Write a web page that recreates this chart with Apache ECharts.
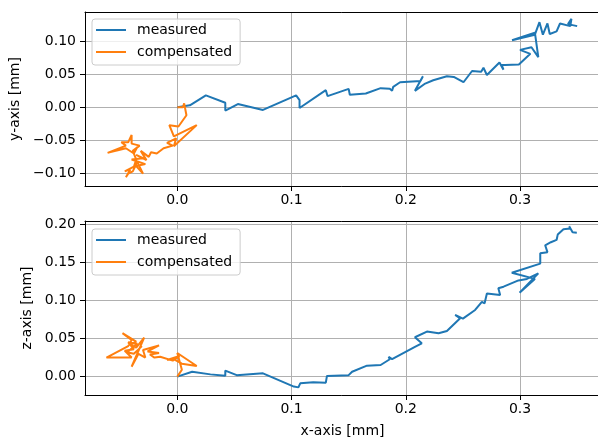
<!DOCTYPE html>
<html>
<head>
<meta charset="utf-8">
<script src="https://cdn.jsdelivr.net/npm/echarts@6/dist/echarts.min.js"></script>
<style>
html,body{margin:0;padding:0;background:#fff;}
#chart{width:598px;height:440px;}
</style>
</head>
<body>
<div id="chart"></div>
<script>
// ---- data ----
var seriesNames = ['measured', 'compensated'];
var xTicks = [0.0, 0.1, 0.2, 0.3];
var yTicks = [-0.10, -0.05, 0.00, 0.05, 0.10];
var zTicks = [0.00, 0.05, 0.10, 0.15, 0.20];

// top panel: x vs y (mm)
var measuredXY = [
  [0,0],[0.011,0.003],[0.025,0.018],[0.042,0.007],[0.042,-0.005],[0.053,0.005],
  [0.075,-0.004],[0.104,0.018],[0.107,0.011],[0.107,-0.001],[0.130,0.026],[0.1315,0.017],
  [0.150,0.028],[0.151,0.019],[0.165,0.021],[0.178,0.029],[0.186,0.028],[0.188,0.025],
  [0.189,0.031],[0.195,0.038],[0.213,0.040],[0.215,0.047],[0.208,0.025],[0.217,0.036],
  [0.224,0.041],[0.236,0.047],[0.242,0.046],[0.2505,0.038],[0.258,0.055],[0.266,0.054],
  [0.268,0.060],[0.271,0.049],[0.282,0.068],[0.2855,0.057],[0.284,0.064],[0.287,0.064],
  [0.299,0.065],[0.309,0.081],[0.300,0.087],[0.310,0.091],[0.316,0.076],[0.313,0.113],
  [0.293,0.1015],[0.313,0.110],[0.317,0.129],[0.320,0.110],[0.324,0.127],[0.326,0.111],
  [0.332,0.115],[0.335,0.127],[0.344,0.123],[0.345,0.134],[0.342,0.126],[0.350,0.123]
];
var compensatedXY = [
  [0,0],[0.005,0],[0.006,0.006],[0.008,-0.012],[0.001,-0.029],[-0.007,-0.027],
  [-0.003,-0.044],[0.017,-0.027],[-0.003,-0.059],[-0.001,-0.047],[-0.009,-0.054],[-0.004,-0.058],
  [-0.012,-0.062],[-0.018,-0.070],[-0.023,-0.068],[-0.025,-0.075],[-0.032,-0.066],[-0.027,-0.080],
  [-0.036,-0.072],[-0.030,-0.077],[-0.040,-0.079],[-0.028,-0.086],[-0.036,-0.089],[-0.030,-0.1005],
  [-0.035,-0.083],[-0.039,-0.097],[-0.043,-0.1005],[-0.045,-0.106],[-0.041,-0.094],[-0.046,-0.097],
  [-0.038,-0.090],[-0.036,-0.079],[-0.039,-0.066],[-0.033,-0.058],[-0.040,-0.055],[-0.040,-0.042],
  [-0.043,-0.053],[-0.049,-0.053],[-0.045,-0.058],[-0.061,-0.069],[-0.045,-0.062],[-0.038,-0.070],
  [-0.035,-0.060]
];

// bottom panel: x vs z (mm)
var measuredXZ = [
  [0,0],[0.013,0.0065],[0.029,0.003],[0.042,0.0013],[0.042,0.008],[0.052,0.002],
  [0.075,0.0044],[0.102,-0.013],[0.106,-0.014],[0.1076,-0.0087],[0.119,-0.0073],[0.130,-0.0078],
  [0.131,0.001],[0.150,0.002],[0.153,0.0065],[0.166,0.0144],[0.178,0.0153],[0.186,0.0228],
  [0.185,0.026],[0.188,0.023],[0.208,0.039],[0.214,0.0437],[0.208,0.0516],[0.2185,0.059],
  [0.2287,0.0568],[0.236,0.0598],[0.2476,0.0764],[0.2432,0.0808],[0.250,0.076],[0.2607,0.0873],
  [0.2666,0.098],[0.269,0.096],[0.271,0.109],[0.2826,0.107],[0.281,0.1157],[0.2856,0.1178],
  [0.2986,0.126],[0.306,0.128],[0.316,0.1353],[0.2996,0.110],[0.313,0.128],[0.2928,0.136],
  [0.3177,0.148],[0.3177,0.1615],[0.324,0.163],[0.322,0.172],[0.327,0.176],[0.332,0.179],
  [0.333,0.186],[0.338,0.193],[0.344,0.194],[0.343,0.197],[0.346,0.189],[0.3497,0.1885]
];
var compensatedXZ = [
  [0,0],[0.004,0.009],[0.0,0.031],[0.017,0.014],[0.004,0.017],[-0.002,0.022],
  [-0.009,0.022],[0.002,0.027],[-0.004,0.021],[-0.015,0.026],[-0.020,0.025],[-0.024,0.029],
  [-0.016,0.031],[-0.026,0.033],[-0.016,0.041],[-0.030,0.035],[-0.028,0.025],[-0.034,0.030],
  [-0.040,0.013],[-0.029,0.051],[-0.036,0.038],[-0.041,0.042],[-0.036,0.046],[-0.048,0.057],
  [-0.040,0.048],[-0.043,0.040],[-0.062,0.025],[-0.040,0.025],[-0.046,0.034],[-0.038,0.036],
  [-0.043,0.045],[-0.035,0.043],[-0.044,0.032],[-0.038,0.030],[-0.031,0.040]
];

// ---- chart ----
var FONT = 'DejaVu Sans';
var BLUE = '#1f77b4', ORANGE = '#ff7f0e';
var X_MIN = -0.0808, X_MAX = 0.3700;
function fmt(d){ return function(v){ var s = Math.abs(v).toFixed(d); return (v < -1e-9 ? '\u2212' : '') + s; }; }

function xAxisCfg(gridIndex, showName){
  return {
    type:'value', gridIndex:gridIndex, min:X_MIN, max:X_MAX, position:'bottom',
    axisLine:{show:true, onZero:false, lineStyle:{color:'#000', width:1}},
    axisTick:{show:true, length:5, customValues:xTicks, lineStyle:{color:'#000', width:1}},
    axisLabel:{customValues:xTicks, formatter:fmt(1), color:'#000', fontFamily:FONT, fontSize:14, margin:7},
    splitLine:{show:true, lineStyle:{color:'#b0b0b0', width:1}},
    name: showName ? 'x-axis [mm]' : '', nameLocation:'middle', nameGap:29,
    nameTextStyle:{color:'#000', fontFamily:FONT, fontSize:14}
  };
}
function topSpine(gridIndex){
  return {
    type:'value', gridIndex:gridIndex, min:X_MIN, max:X_MAX, position:'top',
    axisLine:{show:true, onZero:false, lineStyle:{color:'#000', width:1}},
    axisTick:{show:false}, axisLabel:{show:false}, splitLine:{show:false}
  };
}
function yAxisCfg(gridIndex, mn, mx, ticks, name, gap){
  return {
    type:'value', gridIndex:gridIndex, min:mn, max:mx,
    axisLine:{show:true, onZero:false, lineStyle:{color:'#000', width:1}},
    axisTick:{show:true, length:5, customValues:ticks, lineStyle:{color:'#000', width:1}},
    axisLabel:{customValues:ticks, formatter:fmt(2), color:'#000', fontFamily:FONT, fontSize:14, margin:9},
    splitLine:{show:true, lineStyle:{color:'#b0b0b0', width:1}},
    name:name, nameLocation:'middle', nameGap:gap, nameRotate:90,
    nameTextStyle:{color:'#000', fontFamily:FONT, fontSize:14}
  };
}
function legendCfg(top){
  return {
    orient:'vertical', left:92, top:top,
    data: seriesNames.map(function(n){ return {name:n, icon:'rect'}; }),
    itemWidth:30, itemHeight:2, itemGap:6,
    padding:[3,8,5,4],
    backgroundColor:'rgba(255,255,255,0.8)', borderColor:'#cccccc', borderWidth:1, borderRadius:3,
    textStyle:{color:'#000', fontFamily:FONT, fontSize:14, lineHeight:16, padding:[0,0,0,6]},
    selectedMode:false
  };
}
function lineSeries(name, data, color, gi){
  return {
    type:'line', name:name, data:data, xAxisIndex:gi, yAxisIndex:gi,
    showSymbol:false, symbol:'none', lineStyle:{color:color, width:2}, itemStyle:{color:color},
    animation:false, silent:true
  };
}

var chart = echarts.init(document.getElementById('chart'), null, {renderer:'canvas'});
chart.setOption({
  backgroundColor:'#fff',
  animation:false,
  grid:[
    {left:85, top:12, width:515, height:174, outerBoundsMode:'none', containLabel:false, show:false},
    {left:85, top:221, width:515, height:174, outerBoundsMode:'none', containLabel:false, show:false}
  ],
  xAxis:[ xAxisCfg(0,false), xAxisCfg(1,true), topSpine(0), topSpine(1) ],
  yAxis:[
    yAxisCfg(0, -0.1192, 0.1444, yTicks, 'y-axis [mm]', 60),
    yAxisCfg(1, -0.0240, 0.2038, zTicks, 'z-axis [mm]', 50)
  ],
  legend:[ legendCfg(19), legendCfg(229) ],
  series:[
    lineSeries(seriesNames[0], measuredXY, BLUE, 0),
    lineSeries(seriesNames[1], compensatedXY, ORANGE, 0),
    lineSeries(seriesNames[0], measuredXZ, BLUE, 1),
    lineSeries(seriesNames[1], compensatedXZ, ORANGE, 1)
  ]
});
</script>
</body>
</html>
